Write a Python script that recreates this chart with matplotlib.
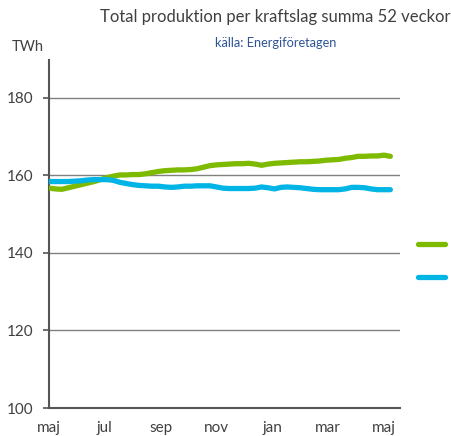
import numpy as np
import matplotlib
matplotlib.use("Agg")
import matplotlib.pyplot as plt
from matplotlib.lines import Line2D

plt.rcParams['font.family'] = ['Lato', 'DejaVu Sans']

# veckovärden, summa 52 veckor (TWh)
green = [156.7, 156.5, 156.4, 156.8, 157.2, 157.6, 158.0, 158.4, 158.9, 159.4,
         159.8, 160.1, 160.1, 160.2, 160.2, 160.4, 160.7, 161.0, 161.2, 161.3,
         161.4, 161.4, 161.5, 161.7, 162.1, 162.5, 162.7, 162.8, 162.9, 163.0,
         163.0, 163.1, 162.9, 162.6, 162.9, 163.1, 163.2, 163.3, 163.4, 163.5,
         163.5, 163.6, 163.7, 163.9, 164.0, 164.1, 164.4, 164.6, 164.9, 164.9,
         165.0, 165.0, 165.2, 164.9]
blue = [158.4, 158.4, 158.4, 158.4, 158.5, 158.6, 158.8, 158.9, 158.9, 158.9,
        158.7, 158.2, 157.9, 157.6, 157.4, 157.3, 157.2, 157.2, 157.0, 156.9,
        157.0, 157.2, 157.2, 157.3, 157.3, 157.3, 157.0, 156.7, 156.6, 156.6,
        156.6, 156.6, 156.7, 157.0, 156.8, 156.5, 156.9, 157.0, 156.9, 156.8,
        156.6, 156.4, 156.3, 156.3, 156.3, 156.3, 156.5, 156.9, 156.9, 156.8,
        156.5, 156.3, 156.3, 156.3]
months = ['maj', 'jul', 'sep', 'nov', 'jan', 'mar', 'maj']
yticks = [100, 120, 140, 160, 180]

c_green = '#7DBA00'
c_blue = '#00B5E6'
c_text = '#404040'

fig = plt.figure(figsize=(4.52, 4.36), dpi=100)
ax = fig.add_axes([0.1084, 0.0642, 0.7766, 0.7978])

x = np.arange(len(green))
ax.plot(x, green, color=c_green, lw=3.8, solid_capstyle='round', zorder=3)
ax.plot(x, blue, color=c_blue, lw=3.8, solid_capstyle='round', zorder=3)

ax.set_xlim(0, 54.5)
ax.set_ylim(100, 189.7)
ax.set_yticks(yticks)
ax.set_yticklabels([str(v) for v in yticks], fontsize=11, color=c_text)
ax.set_xticks(np.linspace(0, 52, len(months)))
ax.set_xticklabels(months, fontsize=11, color=c_text)
ax.tick_params(axis='x', length=0, pad=9)
ax.tick_params(axis='y', length=4, width=1.2, color='#555555', pad=7)

for v in yticks[1:]:
    ax.axhline(v, color='#808080', lw=1, zorder=1)

for s in ['top', 'right']:
    ax.spines[s].set_visible(False)
for s in ['left', 'bottom']:
    ax.spines[s].set_color('#555555')
    ax.spines[s].set_linewidth(1.5)

fig.text(0.61, 0.962, 'Total produktion per kraftslag summa 52 veckor',
         ha='center', va='center', fontsize=12, color=c_text)
fig.text(0.61, 0.902, 'källa: Energiföretagen',
         ha='center', va='center', fontsize=9.2, color='#2F5597')
fig.text(0.027, 0.892, 'TWh', ha='left', va='center', fontsize=10.5, color=c_text)

# legend marks (labels are cut off in the original)
fig.add_artist(Line2D([0.925, 0.985], [1 - 244/436] * 2, color=c_green, lw=3.8,
                      solid_capstyle='round', transform=fig.transFigure))
fig.add_artist(Line2D([0.925, 0.985], [1 - 277/436] * 2, color=c_blue, lw=3.8,
                      solid_capstyle='round', transform=fig.transFigure))

fig.savefig('out.png', dpi=100)
